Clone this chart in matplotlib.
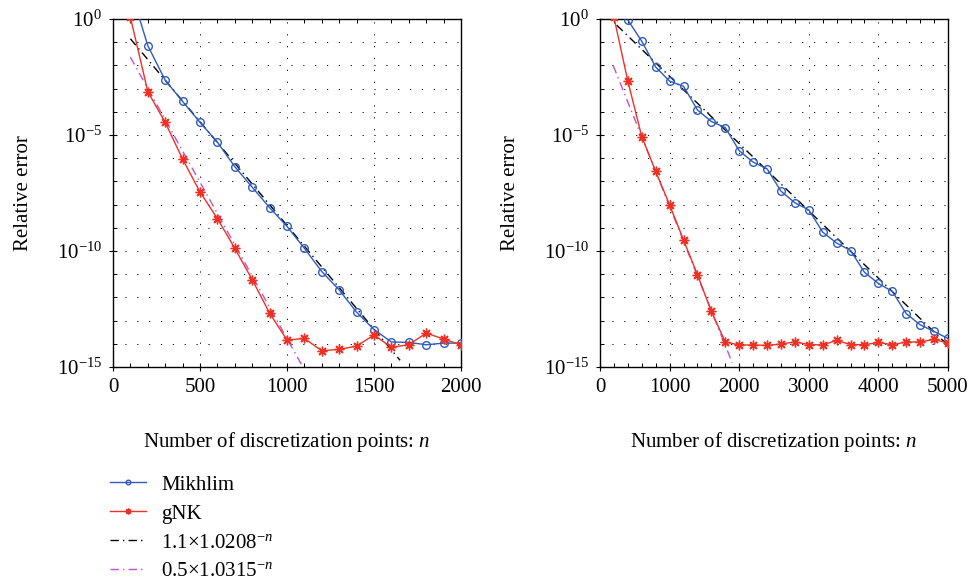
import numpy as np
import matplotlib
matplotlib.use("Agg")
import matplotlib.pyplot as plt
from matplotlib.ticker import FixedLocator, MultipleLocator, LogLocator, NullFormatter

plt.rcParams['font.family'] = ['Liberation Serif', 'DejaVu Serif']
plt.rcParams['mathtext.fontset'] = 'custom'
plt.rcParams['mathtext.rm'] = 'Liberation Serif'
plt.rcParams['mathtext.it'] = 'Liberation Serif:italic'
plt.rcParams['font.size'] = 15

# ---- left panel: n = 100 ... 2000 ----
n_left = [100, 200, 300, 400, 500, 600, 700, 800, 900, 1000,
          1100, 1200, 1300, 1400, 1500, 1600, 1700, 1800, 1900, 2000]
mikhlim_left = [2.0e1, 7.1e-2, 2.3e-3, 2.8e-4, 3.5e-5, 4.9e-6, 4.3e-7, 5.6e-8, 7.4e-9, 1.15e-9,
                1.3e-10, 1.3e-11, 2.1e-12, 2.3e-13, 4.1e-14, 1.2e-14, 1.15e-14, 9.1e-15, 1.07e-14, 1.07e-14]
gnk_left = [1.2e0, 7.4e-4, 3.5e-5, 9.1e-7, 3.5e-8, 2.5e-9, 1.3e-10, 5.8e-12, 2.1e-13, 1.45e-14,
            1.7e-14, 5.0e-15, 5.8e-15, 7.9e-15, 2.4e-14, 7.1e-15, 9.1e-15, 2.9e-14, 1.6e-14, 9.1e-15]

# ---- right panel: n = 200 ... 5000 ----
n_right_mikhlim = [400, 600, 800, 1000, 1200, 1400, 1600, 1800, 2000, 2200, 2400, 2600,
                   2800, 3000, 3200, 3400, 3600, 3800, 4000, 4200, 4400, 4600, 4800, 5000]
mikhlim_right = [9.1e-1, 1.1e-1, 8.5e-3, 2.1e-3, 1.26e-3, 1.2e-4, 3.8e-5, 2.1e-5, 2.1e-6, 6.8e-7,
                 3.5e-7, 3.8e-8, 1.2e-8, 5.9e-9, 6.5e-10, 2.2e-10, 1.05e-10, 1.2e-11, 4.0e-12,
                 1.8e-12, 2.0e-13, 6.6e-14, 3.4e-14, 1.7e-14]
n_right_gnk = [200, 400, 600, 800, 1000, 1200, 1400, 1600, 1800, 2000, 2200, 2400, 2600,
               2800, 3000, 3200, 3400, 3600, 3800, 4000, 4200, 4400, 4600, 4800, 5000]
gnk_right = [1.2e0, 2.1e-3, 8.5e-6, 2.7e-7, 9.8e-9, 3.0e-10, 9.5e-12, 2.5e-13, 1.2e-14, 8.9e-15,
             8.9e-15, 8.5e-15, 9.8e-15, 1.2e-14, 9.3e-15, 8.9e-15, 1.4e-14, 9.3e-15, 9.1e-15,
             1.15e-14, 9.1e-15, 1.2e-14, 1.2e-14, 1.55e-14, 1.07e-14]

# exponential rates a * b^(-n) and the n-range each is drawn over
fit_slow_left = (1.1, 1.0208, 100, 1650)
fit_fast_left = (0.5, 1.0315, 100, 1100)
fit_slow_right = (2.7, 1.0067, 240, 5000)
fit_fast_right = (0.26, 1.0174, 190, 1900)

labels = ['Mikhlim', 'gNK', '1.1×1.0208$^{-n}$', '0.5×1.0315$^{-n}$']

BLUE = '#2f5bbd'
RED = '#ee3124'
MAGENTA = '#c050d8'


def rate_curve(a, b, n0, n1):
    n = np.linspace(n0, n1, 400)
    return n, a * b ** (-n)


def panel(ax, n_m, v_m, n_g, v_g, fit_slow, fit_fast, xmax, xmajor, xminor):
    l1, = ax.plot(n_m, v_m, '-', color=BLUE, lw=1.0, marker='o', ms=5.5,
                  mfc='none', mec=BLUE, mew=1.0, zorder=4)
    l2, = ax.plot(n_g, v_g, '-', color=RED, lw=1.0, marker=(8, 2, 0), ms=7,
                  mec=RED, mew=1.0, zorder=5)
    x, y = rate_curve(*fit_slow)
    l3, = ax.plot(x, y, color='black', lw=1.0, dashes=(6, 3, 1, 3), zorder=3)
    x, y = rate_curve(*fit_fast)
    l4, = ax.plot(x, y, color=MAGENTA, lw=1.0, dashes=(6, 3, 1, 3), zorder=3)

    ax.set_yscale('log')
    ax.set_ylim(1e-15, 1e0)
    ax.set_xlim(0, xmax)
    ax.yaxis.set_major_locator(FixedLocator([1e-15, 1e-10, 1e-5, 1e0]))
    ax.yaxis.set_minor_locator(LogLocator(base=10, subs=(1.0,), numticks=30))
    ax.yaxis.set_minor_formatter(NullFormatter())
    ax.xaxis.set_major_locator(MultipleLocator(xmajor))
    ax.xaxis.set_minor_locator(MultipleLocator(xminor))

    grid_kw = dict(color='black', lw=0.7, linestyle=(0, (1.2, 11)))
    ax.xaxis.grid(True, which='major', **grid_kw)
    ax.yaxis.grid(True, which='both', **grid_kw)

    ax.tick_params(which='major', direction='inout', length=6, width=0.8,
                   top=False, right=False, pad=5)
    ax.tick_params(which='minor', direction='in', length=3, width=0.7,
                   top=True, right=False)
    for s in ax.spines.values():
        s.set_linewidth(1.0)

    ax.set_xlabel('Number of discretization points: $n$', labelpad=24)
    ax.set_ylabel('Relative error')
    ax.yaxis.set_label_coords(-0.23, 0.5)
    return [l1, l2, l3, l4]


fig = plt.figure(figsize=(9.7, 5.83), dpi=100)
ax1 = fig.add_axes([113 / 970, 1 - 367 / 583, 348 / 970, 348 / 583])
ax2 = fig.add_axes([600 / 970, 1 - 367 / 583, 348 / 970, 348 / 583])

handles = panel(ax1, n_left, mikhlim_left, n_left, gnk_left,
                fit_slow_left, fit_fast_left, 2000, 500, 100)
panel(ax2, n_right_mikhlim, mikhlim_right, n_right_gnk, gnk_right,
      fit_slow_right, fit_fast_right, 5000, 1000, 200)

fig.legend(handles, labels, loc='upper left', bbox_to_anchor=(110 / 970, 1 - 475 / 583),
           frameon=False, fontsize=15, handlelength=1.75, handletextpad=0.7,
           labelspacing=0.45, borderpad=0, borderaxespad=0, markerscale=0.6)

fig.savefig('out.png', dpi=100)
